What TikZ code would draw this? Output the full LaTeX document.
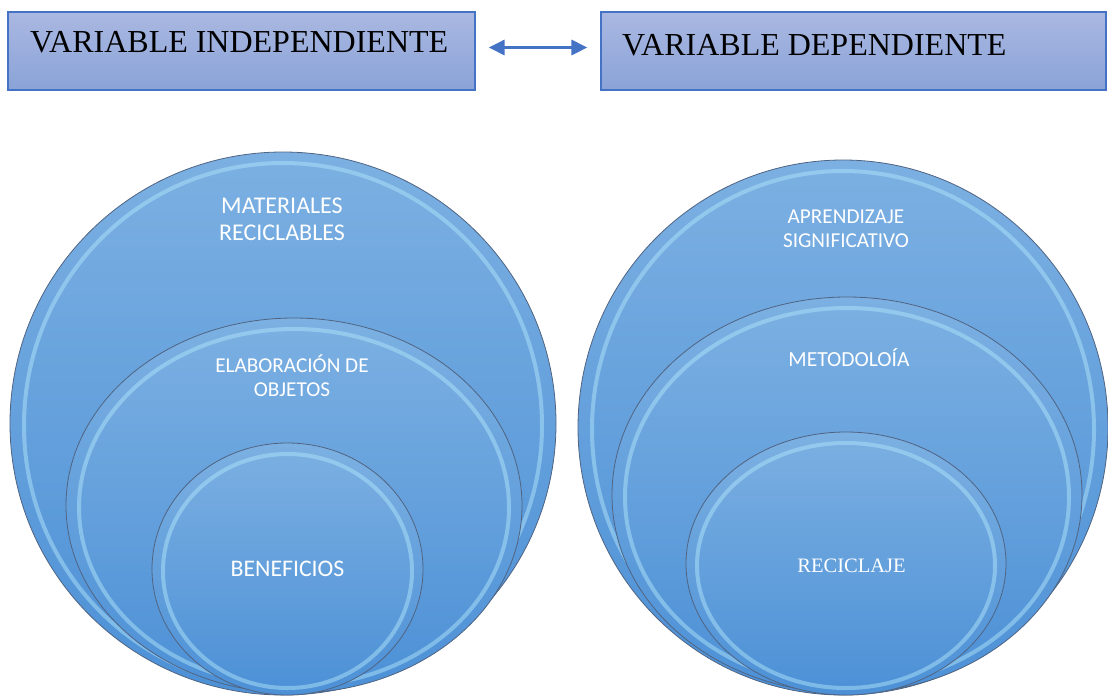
\documentclass[tikz,border=0pt]{standalone}
\usepackage{fontspec}
\setmainfont{Liberation Serif}
\newfontfamily\calfont{Carlito}
\usetikzlibrary{shapes.geometric,arrows.meta}
\definecolor{boxtop}{RGB}{170,184,225}
\definecolor{boxbot}{RGB}{138,163,216}
\definecolor{boxline}{RGB}{68,114,196}
\definecolor{arrowc}{RGB}{68,114,196}
\definecolor{ctop}{RGB}{124,176,226}
\definecolor{cbot}{RGB}{76,144,214}
\definecolor{cline}{RGB}{80,100,130}
\definecolor{ring}{RGB}{175,228,250}
\tikzset{
  varbox/.style={rectangle, draw=boxline, line width=1.2pt, top color=boxtop, bottom color=boxbot, inner sep=0pt},
  vartext/.style={font=\fontsize{32}{36}\selectfont, text=black, inner sep=0pt, anchor=base west},
  disc/.style={ellipse, draw=cline, line width=0.8pt, top color=ctop, bottom color=cbot, inner sep=0pt},
  bevel/.style={ellipse, draw=ring, draw opacity=0.5, line width=4pt, inner sep=0pt},
  disclabel/.style={text=white, align=center, inner sep=0pt},
  biarrow/.style={{Triangle[length=16pt,width=15pt]}-{Triangle[length=16pt,width=15pt]}, draw=arrowc, fill=arrowc, line width=3pt, shorten <=13pt, shorten >=13pt}
}
\begin{document}
\begin{tikzpicture}[x=1pt,y=-1pt]
\useasboundingbox (0,0) rectangle (1108,697);
% top boxes
\node[varbox, minimum width=467pt, minimum height=78pt] (lbox) at (241.5,51) {};
\node[varbox, minimum width=505pt, minimum height=78pt] (rbox) at (853.5,51) {};
\node[vartext] (ltext) at (30,52) {VARIABLE INDEPENDIENTE};
\node[vartext] (rtext) at (622,55) {VARIABLE DEPENDIENTE};
\draw[biarrow] ([yshift=3.5pt]lbox.east) -- ([yshift=3.5pt]rbox.west);
% left nested discs
\node[disc, minimum width=546pt, minimum height=543pt] (l1) at (283,423.5) {};
\node[bevel, minimum width=518pt, minimum height=525pt] (l1r) at (283,425.5) {};
\node[disc, minimum width=456pt, minimum height=375pt] (l2) at (294,505.5) {};
\node[bevel, minimum width=430pt, minimum height=357pt] (l2r) at (294,507.5) {};
\node[disc, minimum width=271pt, minimum height=252pt] (l3) at (287.5,569) {};
\node[bevel, minimum width=249pt, minimum height=234pt] (l3r) at (287.5,571) {};
% right nested discs
\node[disc, minimum width=530pt, minimum height=535pt] (r1) at (843,427.5) {};
\node[bevel, minimum width=502pt, minimum height=517pt] (r1r) at (843,429.5) {};
\node[disc, minimum width=470pt, minimum height=396pt] (r2) at (847,495) {};
\node[bevel, minimum width=444pt, minimum height=378pt] (r2r) at (847,497) {};
\node[disc, minimum width=320pt, minimum height=263pt] (r3) at (846,563.5) {};
\node[bevel, minimum width=298pt, minimum height=245pt] (r3r) at (846,565.5) {};
% labels
\node[disclabel, font=\calfont\fontsize{24}{27}\selectfont] (t1) at (282,219) {MATERIALES\\RECICLABLES};
\node[disclabel, font=\calfont\fontsize{21.2}{24}\selectfont] (t2) at (292,376) {ELABORACIÓN DE\\OBJETOS};
\node[disclabel, font=\calfont\fontsize{23.8}{27}\selectfont] (t3) at (287.5,569) {BENEFICIOS};
\node[disclabel, font=\calfont\fontsize{21.2}{24}\selectfont] (t4) at (846,229) {APRENDIZAJE\\SIGNIFICATIVO};
\node[disclabel, font=\calfont\fontsize{21.5}{24}\selectfont] (t5) at (849,358) {METODOLOÍA};
\node[disclabel, font=\fontsize{20.5}{24}\selectfont] (t6) at (851.5,566) {RECICLAJE};
\end{tikzpicture}
\end{document}
